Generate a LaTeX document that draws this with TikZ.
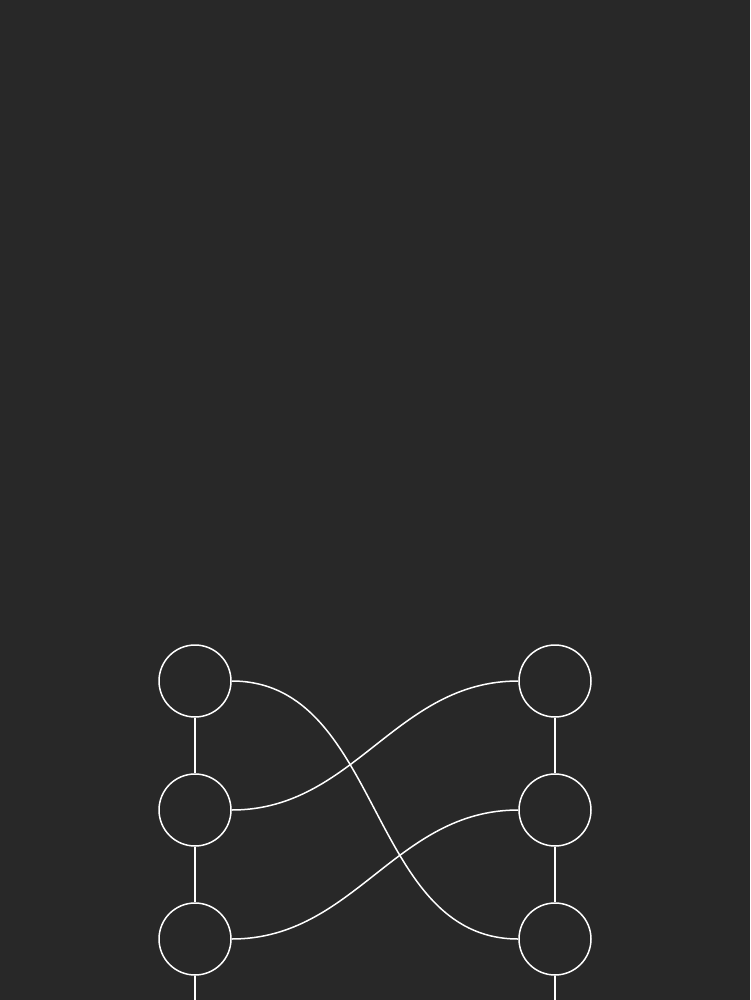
\documentclass[tikz,border=0pt]{standalone}
\definecolor{bg}{HTML}{282828}
\begin{document}
\begin{tikzpicture}[x=1pt,y=-1pt,
  ring/.style={circle,draw=white,line width=1.5pt,minimum size=72pt,inner sep=0pt},
  wire/.style={draw=white,line width=1.5pt}]
\fill[bg] (0,0) rectangle (750,1000);
\useasboundingbox (0,0) rectangle (750,1000);
\node[ring] (l1) at (195,681) {};
\node[ring] (l2) at (195,810) {};
\node[ring] (l3) at (195,939) {};
\node[ring] (r1) at (555,681) {};
\node[ring] (r2) at (555,810) {};
\node[ring] (r3) at (555,939) {};
\coordinate (lb) at (195,1002);
\coordinate (rb) at (555,1002);
\draw[wire] (l1) -- (l2);
\draw[wire] (l2) -- (l3);
\draw[wire] (l3.south) -- (lb);
\draw[wire] (r1) -- (r2);
\draw[wire] (r2) -- (r3);
\draw[wire] (r3.south) -- (rb);
\draw[wire] (l1.east) to[out=0,in=180] (r3.west);
\draw[wire] (l2.east) to[out=0,in=180] (r1.west);
\draw[wire] (l3.east) to[out=0,in=180] (r2.west);
\end{tikzpicture}
\end{document}
